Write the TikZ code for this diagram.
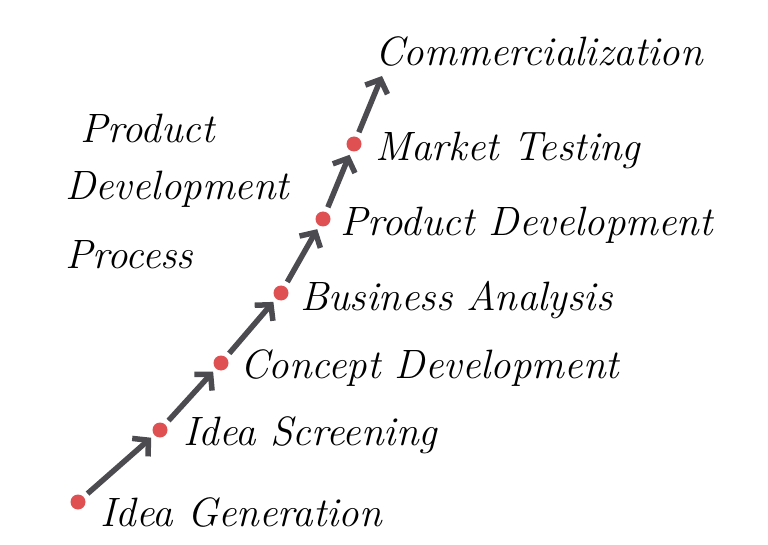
\documentclass[tikz,border=0pt]{standalone}
\usepackage{tikz}
\usetikzlibrary{arrows.meta}
\definecolor{dotred}{RGB}{222,80,82}
\definecolor{arrowgray}{RGB}{75,75,80}
\newcommand{\handfont}{\fontsize{41}{46}\selectfont\itshape}

\begin{document}
\begin{tikzpicture}[x=1pt,y=-1pt,
  stagedot/.style={circle,fill=dotred,inner sep=0pt,minimum size=15pt},
  stagelabel/.style={anchor=west,font=\handfont,inner sep=0pt},
  stagearrow/.style={arrowgray,line width=5.5pt,-{Straight Barb[length=11pt,width=24pt]},shorten <=5pt,shorten >=4pt}]
\useasboundingbox (0,0) rectangle (768,545);

% Title
\node[stagelabel] (title1) at (80,128) {Product};
\node[stagelabel] (title2) at (65,189) {Development};
\node[stagelabel] (title3) at (65,255) {Process};

% Stages
\node[stagedot] (gen) at (78,502) {};
\node[stagedot] (scr) at (160,430) {};
\node[stagedot] (con) at (221,363) {};
\node[stagedot] (bus) at (281,293) {};
\node[stagedot] (prd) at (323,219) {};
\node[stagedot] (mkt) at (354,144) {};
\coordinate (com) at (382,76);

\node[stagelabel] (genlab) at (100,512) {Idea Generation};
\node[stagelabel] (scrlab) at (183,435) {Idea Screening};
\node[stagelabel] (conlab) at (240,368) {Concept Development};
\node[stagelabel] (buslab) at (300,300) {Business Analysis};
\node[stagelabel] (prdlab) at (340,225) {Product Development};
\node[stagelabel] (mktlab) at (375,150) {Market Testing};
\node[stagelabel] (comlab) at (375,52) {Commercialization};

% Arrows between stages
\draw[stagearrow] (gen) -- (scr);
\draw[stagearrow] (scr) -- (con);
\draw[stagearrow] (con) -- (bus);
\draw[stagearrow] (bus) -- (prd);
\draw[stagearrow] (prd) -- (mkt);
\draw[stagearrow,shorten >=0pt] (mkt) -- (com);

\end{tikzpicture}
\end{document}
